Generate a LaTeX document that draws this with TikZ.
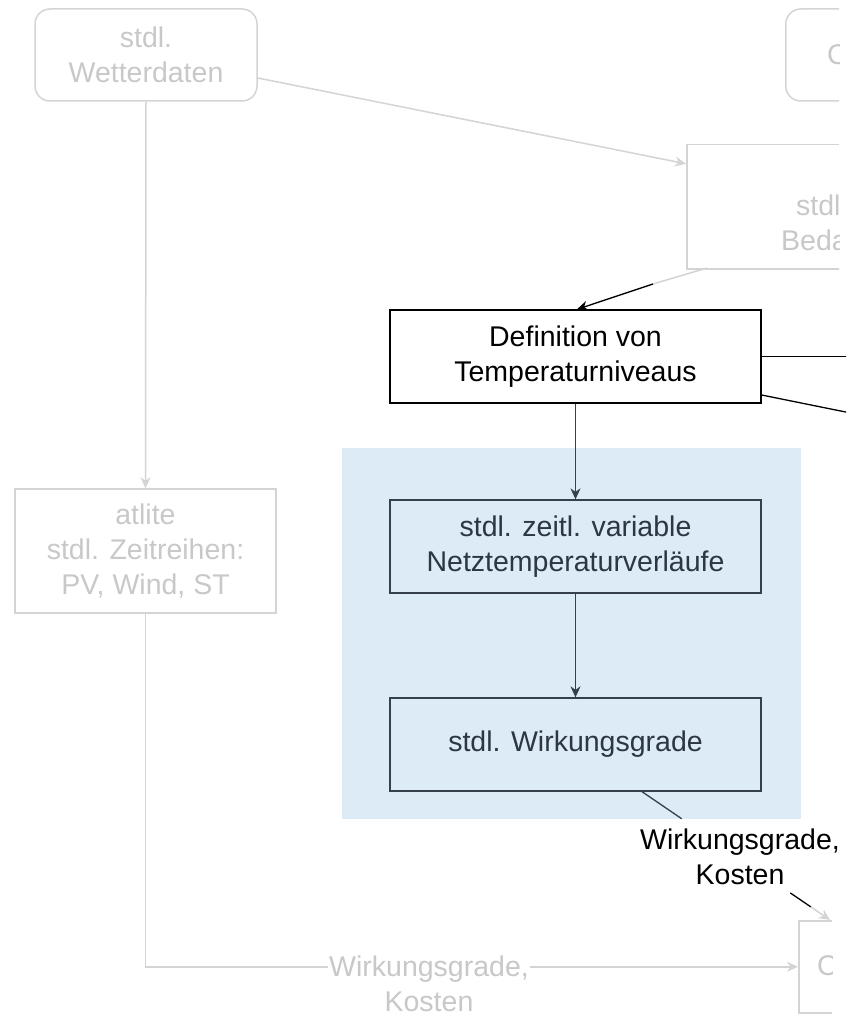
\documentclass[tikz,border=0pt]{standalone}
\usepackage{fontspec}
\setmainfont{Liberation Sans}
\usetikzlibrary{arrows.meta,calc}
\definecolor{fadeline}{RGB}{212,212,212}
\definecolor{fadetext}{RGB}{200,200,200}
\definecolor{bluebg}{RGB}{221,235,246}
\definecolor{slate}{RGB}{54,64,74}
\definecolor{slatetext}{RGB}{44,55,66}
\tikzset{
  base/.style={font=\fontsize{28.5}{35}\selectfont, align=center, inner sep=0pt},
  fadebox/.style={base, draw=fadeline, line width=1.5pt, text=fadetext},
  solidbox/.style={base, line width=1.3pt, minimum width=371pt, minimum height=93pt},
  fadeconn/.style={draw=fadeline, line width=1.5pt},
  blackconn/.style={draw=black, line width=1.3pt},
  darkconn/.style={draw=slate, line width=1.3pt},
  arrowhd/.style={-{Stealth[length=11pt,width=10pt,inset=3.5pt]}}
}
\begin{document}
\begin{tikzpicture}[x=1pt,y=-1pt]
\useasboundingbox (0,0) rectangle (846,1016);
\clip (0,0) rectangle (846,1016);
% grey context boxes
\node[fadebox, rounded corners=15pt, minimum width=222pt, minimum height=92pt] (wet) at (146,55) {stdl.\\Wetterdaten};
\begin{scope}
\clip (0,0) rectangle (839,800);
\node[fadebox, rounded corners=15pt, minimum width=200pt, minimum height=92pt, anchor=west] (topr) at (785,55) {};
\node[base, text=fadetext, anchor=west] (toprtxt) at (827,55) {C};
\node[fadebox, minimum width=200pt, minimum height=124pt, anchor=north west] (bed) at (686,144) {};
\node[base, text=fadetext, anchor=base west] (bedtxt1) at (796,215) {stdl};
\node[base, text=fadetext, anchor=base west] (bedtxt2) at (781,250) {Beda};
\end{scope}
\node[fadebox, minimum width=261pt, minimum height=124pt] (atl) at (145.5,551) {atlite\\stdl. Zeitreihen:\\PV, Wind, ST};
\begin{scope}
\clip (700,900) rectangle (832,1016);
\node[fadebox, minimum width=200pt, minimum height=92pt, anchor=north west] (botr) at (798,920) {};
\node[base, text=fadetext, anchor=west] (botrtxt) at (817,966) {C};
\end{scope}
% blue group
\node[fill=bluebg, inner sep=0pt, minimum width=459pt, minimum height=371pt, anchor=north west] (grp) at (342,448) {};
% main boxes
\node[solidbox, draw=black, fill=white] (def) at (575.5,356.5) {Definition von\\Temperaturniveaus};
\node[solidbox, draw=slate, text=slatetext] (nt) at (575.5,546.5) {stdl. zeitl. variable\\Netztemperaturverläufe};
\node[solidbox, draw=slate, text=slatetext] (wg) at (575.5,744.5) {stdl. Wirkungsgrade};
% grey connectors
\draw[fadeconn, arrowhd] ([yshift=-23pt]wet.east) -- ([yshift=43pt]bed.west);
\draw[fadeconn, arrowhd] (wet.south) -- (atl.north);
\draw[fadeconn, arrowhd] (atl.south) |- (botr.west);
\node[base, text=fadetext, fill=white, inner sep=1pt] (lbl1) at (429,984) {Wirkungsgrade,\\Kosten};
% bedarf -> definition
\coordinate (bd1) at (707,268);
\coordinate (bdmid) at (653,284);
\draw[fadeconn] (bd1) -- (bdmid);
\draw[blackconn, arrowhd] (bdmid) -- ([xshift=1.5pt]def.north);
% definition -> right
\coordinate (r1) at (900,356.5);
\coordinate (r2) at (900,423);
\draw[blackconn] (def.east) -- (r1);
\draw[blackconn] ([yshift=-38.5pt]def.east) -- (r2);
% inner arrows
\draw[darkconn, arrowhd] (def.south) -- (nt.north);
\draw[darkconn, arrowhd] (nt.south) -- (wg.north);
% wirkungsgrade -> bottom box
\coordinate (wa) at ([xshift=66.5pt]wg.south);
\coordinate (wb) at ([xshift=32pt]botr.north west);
\coordinate (w1) at ($(wa)!0.211!(wb)$);
\coordinate (w2) at ($(wa)!0.789!(wb)$);
\coordinate (w3) at ($(wa)!0.898!(wb)$);
\draw[darkconn] (wa) -- (w1);
\draw[blackconn] (w2) -- (w3);
\draw[fadeconn, arrowhd] (w3) -- (wb);
\node[base, text=black] (lbl2) at (740,857) {Wirkungsgrade,\\Kosten};
\end{tikzpicture}
\end{document}
